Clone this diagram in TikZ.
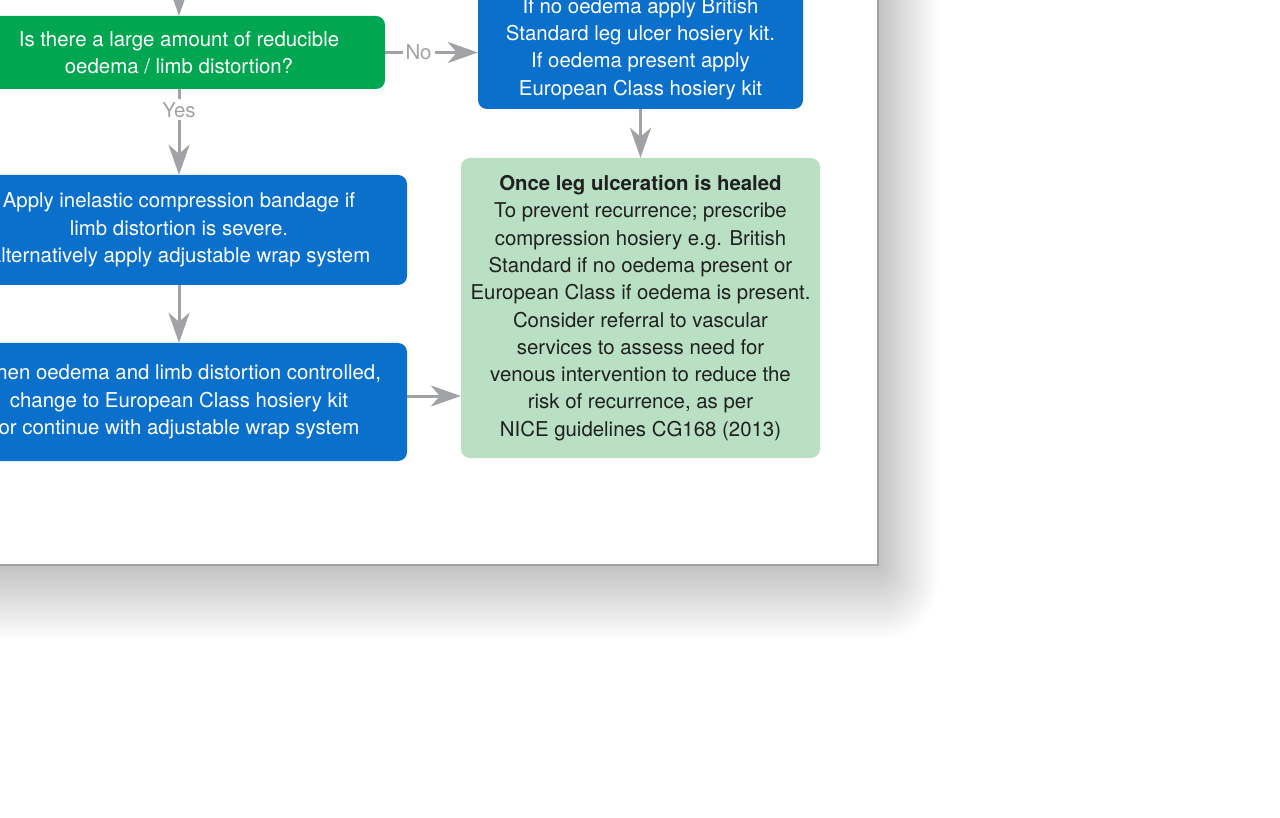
\documentclass[tikz,border=0pt]{standalone}
\usepackage{fontspec}
\setmainfont{TeX Gyre Heros}
\usetikzlibrary{arrows.meta}
\definecolor{kgreen}{RGB}{0,166,80}
\definecolor{kblue}{RGB}{10,112,204}
\definecolor{klight}{RGB}{185,224,194}
\definecolor{kgray}{RGB}{161,162,166}
\definecolor{kborder}{RGB}{160,160,160}
\definecolor{ktext}{RGB}{32,32,32}

\begin{document}
\begin{tikzpicture}[x=1pt,y=-1pt,
  box/.style={rounded corners=9pt,inner sep=2pt,align=center,font=\fontsize{20.4}{27.3}\selectfont},
  bluebox/.style={box,fill=kblue,text=white},
  pil/.style={-{Stealth[length=30pt,width=21pt,inset=9pt]},line width=3pt,kgray},
  lbl/.style={fill=white,text=kgray,inner sep=3pt,font=\fontsize{20.4}{24}\selectfont}]
\useasboundingbox (0,0) rectangle (1280,818);
\clip (0,0) rectangle (1280,818);
\fill[white] (0,0) rectangle (1280,818);
%skygge
\foreach \i in {1,...,30}
  \fill[black,opacity=0.0065,rounded corners=2*\i pt] (-100,-100) rectangle (878+2*\i,565+2.5*\i);
%ark
\draw[kborder,line width=2pt,fill=white] (-100,-100) rectangle (878,565);
%bokser
\node[box,fill=kgreen,text=white,minimum width=412pt,minimum height=73pt] (sporsmal) at (179,52.5) {Is there a large amount of reducible\\oedema / limb distortion?};
\node[bluebox,minimum width=325pt,minimum height=120pt] (hosiery) at (640.5,49) {If no oedema apply British\\Standard leg ulcer hosiery kit.\\If oedema present apply\\European Class hosiery kit};
\node[bluebox,minimum width=456pt,minimum height=110pt] (bandasje) at (179,230) {Apply inelastic compression bandage if\\limb distortion is severe.\\Alternatively apply adjustable wrap system};
\node[bluebox,minimum width=456pt,minimum height=118pt] (kontroll) at (179,402) {When oedema and limb distortion controlled,\\change to European Class hosiery kit\\or continue with adjustable wrap system};
\node[box,fill=klight,text=ktext,minimum width=359pt,minimum height=300pt] (leget) at (640.5,308) {\textbf{Once leg ulceration is healed}\\To prevent recurrence; prescribe\\compression hosiery e.g. British\\Standard if no oedema present or\\European Class if oedema is present.\\Consider referral to vascular\\services to assess need for\\venous intervention to reduce the\\risk of recurrence, as per\\NICE guidelines CG168 (2013)};
%piler
\coordinate (inn) at (179,-5);
\draw[pil] (inn) -- (sporsmal);
\draw[pil] (sporsmal) -- node[lbl,pos=0.24]{Yes} (bandasje);
\draw[pil] (sporsmal.east) -- node[lbl,pos=0.36]{No} (sporsmal.east -| hosiery.west);
\draw[pil] (hosiery) -- (leget);
\draw[pil] (bandasje) -- (kontroll);
\draw[pil] ([yshift=6pt]kontroll.east) -- ([yshift=6pt]kontroll.east -| leget.west);
\end{tikzpicture}
\end{document}
